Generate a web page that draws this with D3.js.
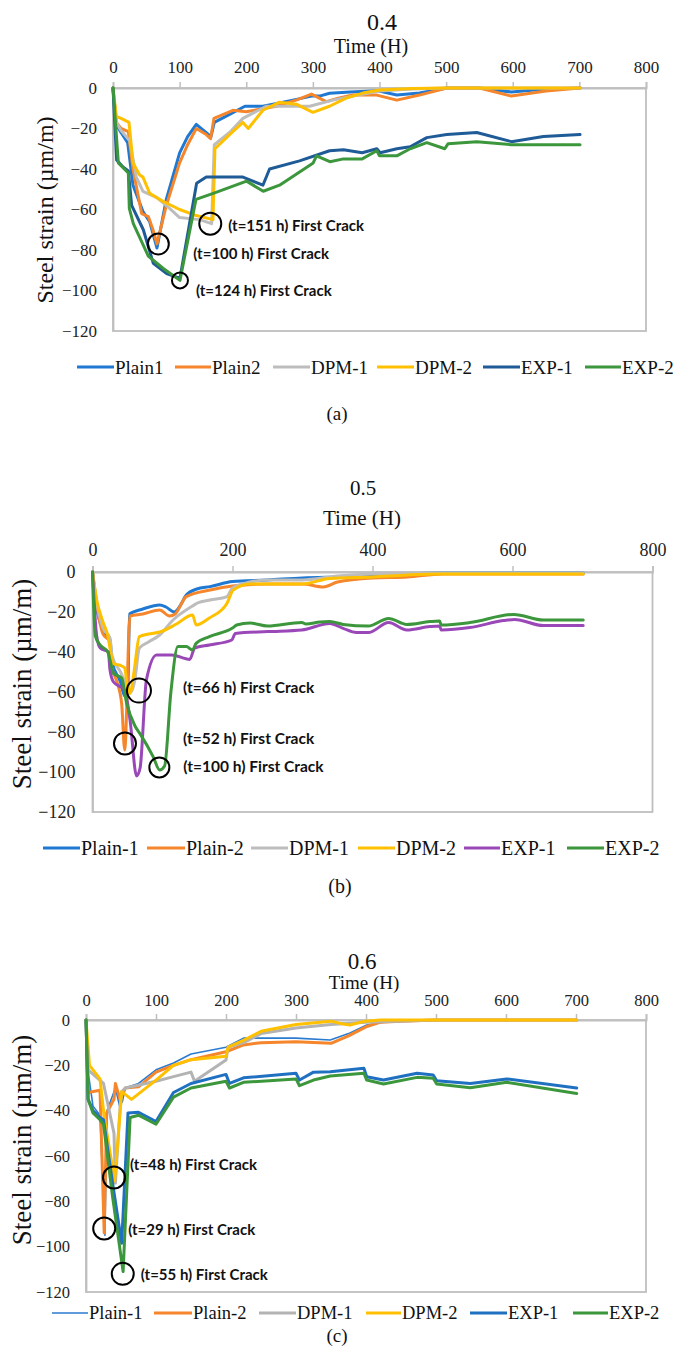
<!DOCTYPE html>
<html><head><meta charset="utf-8">
<script src="https://cdn.jsdelivr.net/npm/d3@7"></script>
<style>html,body{margin:0;padding:0;background:#fff;}svg{display:block;}
.serif{font-family:"Liberation Serif","Times New Roman",serif;}
.ann{font-family:Lato,"Open Sans",sans-serif;font-weight:bold;}
</style>
</head><body>
<svg id="chart" width="673" height="1351"></svg>
<script>
// ---------------- DATA ----------------
const namesA = ["Plain1","Plain2","DPM-1","DPM-2","EXP-1","EXP-2"];
const namesBC = ["Plain-1","Plain-2","DPM-1","DPM-2","EXP-1","EXP-2"];
const xTicksA = [0,100,200,300,400,500,600,700,800];
const xTicksB = [0,200,400,600,800];
const xTicksC = [0,100,200,300,400,500,600,700,800];
const yTicks = [0,-20,-40,-60,-80,-100,-120];
const panelTitles = ["0.4","0.5","0.6"];
const subLabels = ["(a)","(b)","(c)"];
const xAxisTitle = "Time (H)";
const yAxisTitle = "Steel strain (\u00b5m/m)";

// Panel (a): w/c 0.4  [time (h), strain (um/m)]
const a_plain1 = [[0,0],[5,-18],[12,-22],[22,-27],[30,-48],[45,-61],[55,-66],[66,-79],[80,-55],[100,-32],[112,-24],[125,-18],[140,-22],[147,-24],[152,-17],[175,-13],[198,-9],[225,-9],[270,-6],[298,-4],[310,-4],[325,-2.6],[356,-2],[396,-1.3],[426,-3.5],[460,-2.5],[501,0],[550,0],[598,-2],[650,-0.5],[701,0]];
const a_plain2 = [[0,0],[5,-17],[12,-20],[23,-21.5],[30,-40],[43,-62],[53,-63.5],[60,-70],[66,-77],[80,-58],[100,-37],[112,-28],[125,-20],[140,-23],[146.5,-25],[151.5,-15],[180,-11],[200,-11.7],[245,-9],[275,-6],[298,-3],[320,-6.7],[338,-5],[360,-3.5],[396,-3.5],[426,-6],[460,-3.5],[501,0],[550,0],[598,-4],[650,-1.5],[701,0]];
const a_dpm1 = [[0,0],[5,-17],[12,-21],[25,-26],[35,-44],[45,-51],[65,-54],[80,-58],[100,-64],[130,-65],[148,-67],[152,-28],[175,-22],[195,-15],[230,-9],[295,-9],[330,-6],[360,-4],[400,-1.5],[450,-0.5],[500,0],[701,0]];
const a_dpm2 = [[0,0],[5,-14],[12,-15],[24,-17],[30,-37],[40,-43],[45,-44],[55,-52],[75,-56],[100,-60],[125,-63],[150,-65],[153,-30],[175,-23],[195,-17],[203,-20],[225,-11],[250,-7],[275,-8],[300,-12],[325,-9],[350,-5],[375,-2.5],[400,-1],[450,-0.3],[500,0],[701,0]];
const a_exp1 = [[0,0],[5.5,-35.6],[15,-39],[23,-41],[28,-58],[45.5,-70],[60.5,-86.6],[80.5,-91.6],[100.5,-94],[125.5,-47],[140,-44],[195,-44],[225,-48],[235,-40],[280,-36],[325,-31],[346,-30.5],[374,-32],[396,-30],[401,-32],[426,-30],[446,-29],[471,-24.5],[501,-23],[546,-22],[598,-26.5],[646,-24],[701,-23]];
const a_exp2 = [[0,0],[8,-37],[23,-42],[24.5,-59.5],[30.5,-67],[53,-83],[75,-89],[100.5,-95],[124.5,-55],[150.5,-52],[200.5,-46],[225.5,-51],[250,-48],[300.5,-37],[305.5,-33.5],[325.5,-36.4],[346,-35],[374,-35],[396,-31],[400,-33.5],[426,-33.5],[446,-30],[471,-27],[498,-30],[503,-27.5],[546,-26.5],[598,-28],[701,-28]];
const a_cracks = [
  {label:"(t=151 h) First Crack", time:146, strain:-67},
  {label:"(t=100 h) First Crack", time:68, strain:-77},
  {label:"(t=124 h) First Crack", time:100.5, strain:-95}
];

// Panel (b): w/c 0.5
const b_plain1 = [[0,0],[6,-18],[15,-29],[25,-34],[28,-45],[40,-55],[46,-62],[50,-62],[53,-21],[72,-18.5],[96,-16.5],[105,-17.5],[117,-20],[125,-17],[134,-11.5],[149,-8.5],[168,-7.3],[200,-4.8],[250,-4],[300,-3],[350,-2.5],[400,-2],[450,-1],[500,-0.5],[600,-0.5],[701,-0.5]];
const b_plain2 = [[0,0],[6,-16],[15,-31],[25,-35],[27,-47],[35,-55],[41.7,-66],[46,-89],[53.6,-22],[72,-21],[96,-19],[110,-22],[118,-21],[134,-12.3],[168,-9],[200,-7],[250,-6],[300,-6],[330,-7.5],[350,-5],[400,-3],[450,-2.5],[500,-1],[600,-1],[701,-1]];
const b_dpm1 = [[0,0],[6,-15],[15,-28],[25,-33],[28,-42],[40,-50],[48,-56],[55,-60],[60,-55],[67,-38],[80,-35],[96,-31.5],[115,-24],[143,-17],[150,-15.5],[168,-14],[192,-12.3],[200,-8],[225,-5],[250,-4],[300,-4],[350,-2],[400,-1],[500,-0.5],[701,-0.5]];
const b_dpm2 = [[0,0],[6,-14],[15,-25],[22,-32],[27,-42],[30,-45.7],[41.7,-47],[46,-48],[50,-58],[53.6,-60.7],[59,-50.7],[67,-32.3],[80,-31],[96,-30],[120,-26],[143,-21.5],[148,-26.5],[167,-23],[192,-15.7],[201,-9],[225,-6],[250,-6],[300,-6],[339,-3.2],[400,-2.5],[450,-1.5],[496,-1],[701,-1]];
const b_exp1 = [[0,0],[6,-32],[11,-38],[22.6,-40],[25,-49],[30,-55],[46,-59],[53.6,-74],[63,-102],[68,-98],[77,-54],[91.6,-41.5],[113,-41.5],[139,-43.7],[146,-38],[167,-36.5],[199,-34],[204,-30.7],[250,-29.8],[299,-29],[339,-25.7],[358,-28.2],[377,-30.3],[394,-30.3],[423,-25.3],[449,-29],[482,-27.3],[496,-27],[498,-29],[539,-27.8],[587,-24.3],[603,-23.7],[644,-26.8],[701,-26.8]];
const b_exp2 = [[0,0],[4,-32],[11,-36.5],[22,-40],[25,-44],[30,-50.7],[41.7,-53],[48.8,-65.7],[60.7,-77],[67.6,-80.7],[86.6,-92.3],[96,-99],[103,-97],[112,-60],[122,-37.3],[134,-37.3],[143,-39],[148,-35.7],[167,-32.3],[200,-28],[206,-26.5],[225,-25.5],[250,-27],[299,-25.2],[305,-26],[325,-25],[339,-24.8],[358,-26.2],[394,-27],[423,-23.2],[449,-26.2],[482,-24.8],[496,-24.5],[498,-26.5],[539,-25.3],[602,-21.2],[644,-24],[701,-24]];
const b_cracks = [
  {label:"(t=66 h) First Crack", time:66.4, strain:-59.3},
  {label:"(t=52 h) First Crack", time:46.4, strain:-85.7},
  {label:"(t=100 h) First Crack", time:95.5, strain:-97.7}
];

// Panel (c): w/c 0.6
const c_plain1 = [[0,0],[4,-25],[10,-38],[20,-42],[27,-95],[30,-40],[42,-30],[48,-38],[52,-36],[56,-30],[75,-28],[100,-22],[125,-19],[150,-15],[200,-12],[225,-8],[300,-8],[349,-8.8],[375,-6],[401,-2.2],[425,-1],[444,0],[701,0]];
const c_plain2 = [[0,0],[3,-32],[20,-31],[26,-94],[29.5,-41],[40,-35],[42,-28],[48.6,-35],[56,-30],[75,-29.5],[100,-23],[125,-20],[150,-17.5],[200,-14],[225,-11],[250,-10],[300,-9.6],[350,-10.3],[375,-7],[400,-3],[420,-1],[450,-0.5],[500,0],[701,0]];
const c_dpm1 = [[0,0],[3,-22],[25,-28],[40,-50],[42,-72],[50,-32],[56,-30],[100,-27],[125,-25],[150,-23],[155,-27],[200,-17.6],[203,-12],[225,-10],[250,-6],[300,-3.5],[350,-2],[400,-1],[500,0],[701,0]];
const c_dpm2 = [[0,0],[3,-12],[5,-20],[20,-26],[26,-42.6],[41,-71],[51,-31.6],[65,-35],[100,-26.5],[125,-20],[150,-17.5],[200,-16],[203,-12],[225,-9],[250,-5],[300,-2],[350,-0.5],[363,-1.5],[377,-2.2],[396,-0.7],[420,0],[701,0]];
const c_exp1 = [[0,0],[3,-35],[10,-40],[20,-43],[25,-44],[38,-72],[51,-98.5],[60,-41],[75,-40.7],[100,-44.8],[125,-32],[150,-28],[200,-24],[205,-28],[225,-25.5],[300,-23.5],[305,-26.5],[325,-23],[349,-22.8],[397,-21.3],[401,-25],[425,-26.5],[473,-23.5],[496,-24.3],[501,-26.8],[549,-28],[601,-26],[701,-30]];
const c_exp2 = [[0,0],[3,-35],[10,-41],[20,-44],[25,-46],[38,-78],[53,-111],[63,-43],[75,-42],[100,-46],[125,-34],[150,-30],[200,-27],[205,-30],[225,-27.5],[300,-26],[305,-29],[325,-26.5],[349,-24.7],[397,-23.5],[401,-26.5],[425,-28.2],[473,-25.3],[496,-25.7],[501,-28.2],[549,-29.9],[601,-27.5],[701,-32.4]];
const c_cracks = [
  {label:"(t=48 h) First Crack", time:40, strain:-69.5},
  {label:"(t=29 h) First Crack", time:26, strain:-92},
  {label:"(t=55 h) First Crack", time:52.5, strain:-112}
];

// ---------------- LAYOUT / STYLE ----------------
const gridCol = "#bfbfbf";

const panels = [
  {names:namesA, series:[a_plain1,a_plain2,a_dpm1,a_dpm2,a_exp1,a_exp2],
   colors:["#1f78d1","#f5862b","#bdbdbd","#ffc000","#1f5b96","#3c963c"],
   widths:[3,3,3,3,3,3], xTicks:xTicksA, cracks:a_cracks, radii:[11,10.5,8],
   annOff:[[18,2],[35,10],[16,10]], annSize:15,
   left:113, right:646, top:88, bottom:331,
   titleX:382, titleY:22, titleSize:24, timeX:371, timeY:46, timeSize:20,
   tickY:67, tickSize:17, yTickGap:16, ylabX:45, ylabY:210, ylabSize:24,
   legendY:367, legendX:[[77,114],[175,211],[273,310],[377,414],[483,520],[585,621]], legendSize:19,
   subX:337, subY:413, subSize:19, curve:d3.curveLinear},
  {names:namesBC, series:[b_plain1,b_plain2,b_dpm1,b_dpm2,b_exp1,b_exp2],
   colors:["#1f78d1","#f5862b","#bdbdbd","#ffc000","#9a48b8","#3c963c"],
   widths:[3,3,3,3,3,3], xTicks:xTicksB, cracks:b_cracks, radii:[12,11,10],
   annOff:[[44,-3],[58,-5],[24,-1]], annSize:15.5,
   left:92.5, right:652.5, top:572, bottom:812,
   titleX:363, titleY:488, titleSize:21, timeX:362, timeY:518, timeSize:21,
   tickY:550, tickSize:18, yTickGap:17, ylabX:22, ylabY:684, ylabSize:27,
   legendY:848, legendX:[[43,80],[147,185],[251,288],[358,395],[464,500],[567,604]], legendSize:20,
   subX:340, subY:886, subSize:20, curve:d3.curveMonotoneX},
  {names:namesBC, series:[c_plain1,c_plain2,c_dpm1,c_dpm2,c_exp1,c_exp2],
   colors:["#2b7bd0","#f5862b","#b3b3b3","#ffc000","#1f70c1","#3c963c"],
   widths:[1.6,3,3,3,3,3], xTicks:xTicksC, cracks:c_cracks, radii:[11,11,11],
   annOff:[[16,-13],[24,1],[18,1]], annSize:15,
   left:86, right:646, top:1020, bottom:1292,
   titleX:362, titleY:961, titleSize:23, timeX:364, timeY:982, timeSize:19,
   tickY:1000, tickSize:16.5, yTickGap:16, ylabX:22, ylabY:1140, ylabSize:27,
   legendY:1313, legendX:[[52,88],[154,192],[259,296],[366,401],[470,507],[573,608]], legendSize:18.5,
   subX:337, subY:1335, subSize:19, curve:d3.curveLinear}
];

const svg = d3.select("#chart");
svg.append("rect").attr("width",673).attr("height",1351).attr("fill","#fff");

panels.forEach((p, i) => {
  const g = svg.append("g");
  const x = d3.scaleLinear().domain([0,800]).range([p.left,p.right]);
  const y = d3.scaleLinear().domain([0,-120]).range([p.top,p.bottom]);

  // frame
  g.append("rect").attr("x",p.left).attr("y",p.top)
    .attr("width",p.right-p.left).attr("height",p.bottom-p.top)
    .attr("fill","none").attr("stroke",gridCol).attr("stroke-width",1.8);

  // x axis on top
  const xAxis = d3.axisTop(x).tickValues(p.xTicks).tickSize(6).tickPadding(3).tickFormat(d3.format("d"));
  const xa = g.append("g").attr("transform",`translate(0,${p.top})`).call(xAxis);
  xa.attr("font-family",null);
  xa.select(".domain").attr("stroke",gridCol).attr("stroke-width",1.8);
  xa.selectAll(".tick line").attr("stroke",gridCol).attr("stroke-width",1.5);
  xa.selectAll(".tick text").attr("class","serif").style("font-size",p.tickSize+"px")
    .attr("fill","#222").attr("y",p.tickY-p.top).attr("dy","0.35em");

  // y axis
  const yAxis = d3.axisLeft(y).tickValues(yTicks).tickSize(0).tickPadding(p.yTickGap).tickFormat(d3.format("d"));
  const ya = g.append("g").attr("transform",`translate(${p.left},0)`).call(yAxis);
  ya.attr("font-family",null);
  ya.select(".domain").attr("stroke",gridCol).attr("stroke-width",1.8);
  ya.selectAll(".tick text").attr("class","serif").style("font-size",p.tickSize+"px").attr("fill","#222");

  // titles
  g.append("text").attr("class","serif").attr("x",p.titleX).attr("y",p.titleY).attr("dy","0.35em")
    .attr("text-anchor","middle").style("font-size",p.titleSize+"px")
    .attr("fill","#111").text(panelTitles[i]);
  g.append("text").attr("class","serif").attr("x",p.timeX).attr("y",p.timeY).attr("dy","0.35em")
    .attr("text-anchor","middle").style("font-size",p.timeSize+"px")
    .attr("fill","#111").text(xAxisTitle);
  g.append("text").attr("class","serif").attr("transform",`translate(${p.ylabX},${p.ylabY}) rotate(-90)`)
    .attr("dy","0.35em").attr("text-anchor","middle")
    .style("font-size",p.ylabSize+"px").attr("fill","#111").text(yAxisTitle);

  // series
  const line = d3.line().x(d=>x(d[0])).y(d=>y(d[1])).curve(p.curve);
  p.series.forEach((s, k) => {
    g.append("path").datum(s).attr("d",line).attr("fill","none")
      .attr("stroke",p.colors[k]).attr("stroke-width",p.widths[k])
      .attr("stroke-linejoin","round").attr("stroke-linecap","round");
  });

  // crack annotations
  p.cracks.forEach((c, k) => {
    const cx = x(c.time), cy = y(c.strain);
    g.append("circle").attr("cx",cx).attr("cy",cy).attr("r",p.radii[k])
      .attr("fill","none").attr("stroke","#000").attr("stroke-width",2);
    g.append("text").attr("class","ann").attr("x",cx+p.annOff[k][0]).attr("y",cy+p.annOff[k][1]).attr("dy","0.35em")
      .style("font-size",p.annSize+"px").attr("fill","#111").text(c.label);
  });

  // legend
  p.names.forEach((n, k) => {
    const [x0,x1] = p.legendX[k];
    g.append("line").attr("x1",x0).attr("x2",x1).attr("y1",p.legendY).attr("y2",p.legendY)
      .attr("stroke",p.colors[k]).attr("stroke-width",p.widths[k]);
    g.append("text").attr("class","serif").attr("x",x1+1).attr("y",p.legendY).attr("dy","0.35em")
      .style("font-size",p.legendSize+"px").attr("fill","#111").text(n);
  });

  // sub-label
  g.append("text").attr("class","serif").attr("x",p.subX).attr("y",p.subY).attr("dy","0.35em")
    .attr("text-anchor","middle").style("font-size",p.subSize+"px")
    .attr("fill","#111").text(subLabels[i]);
});
</script>
</body></html>
